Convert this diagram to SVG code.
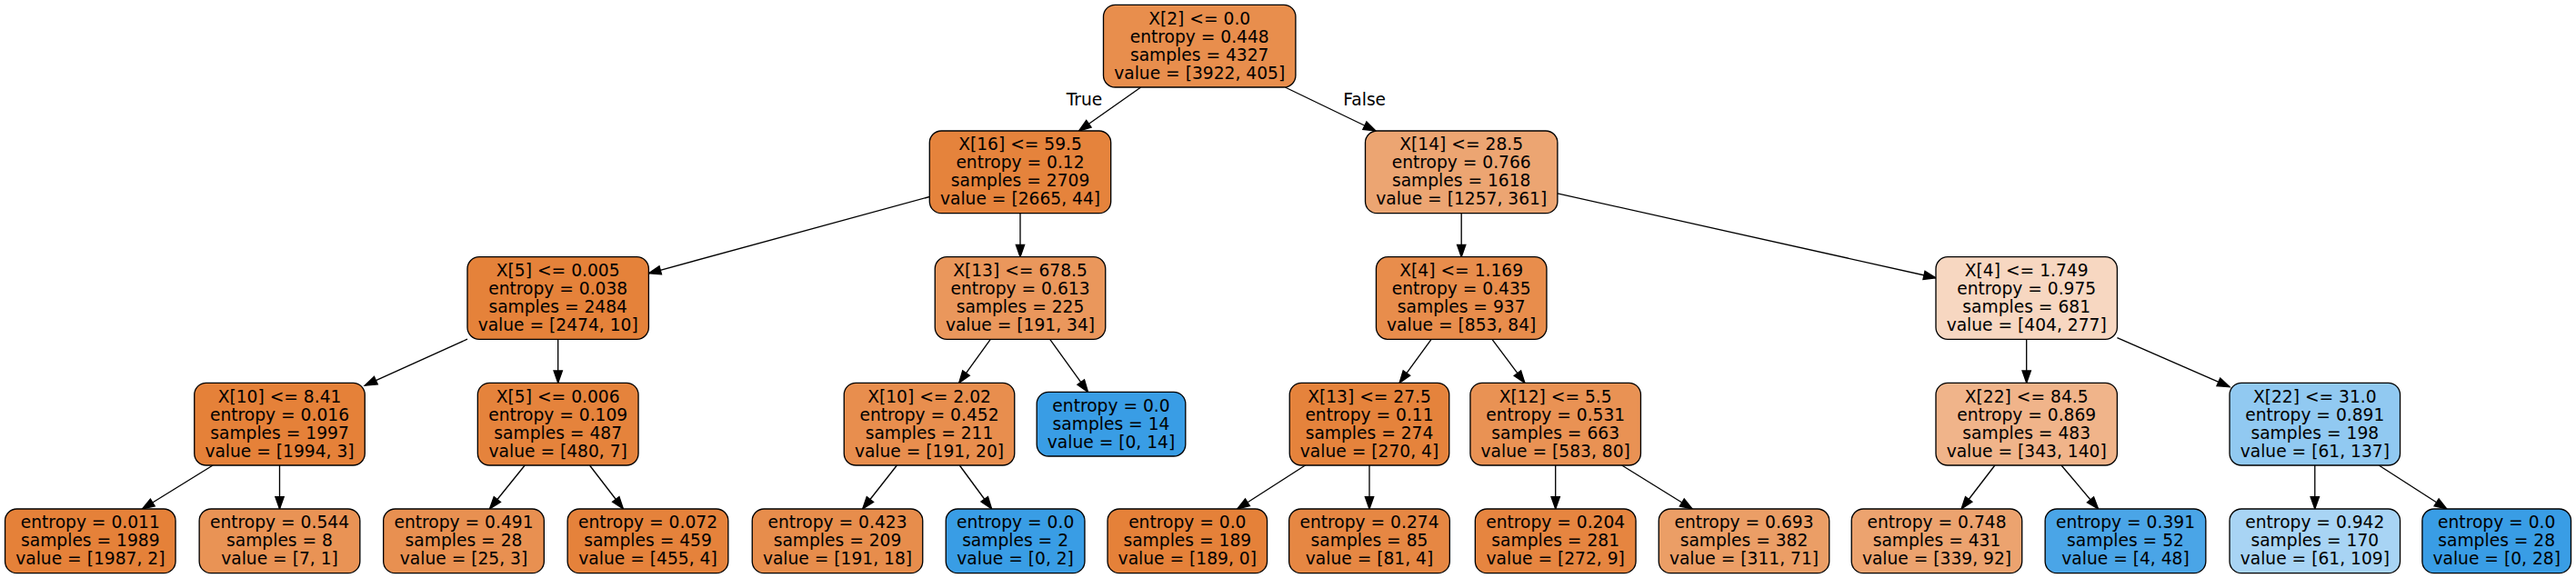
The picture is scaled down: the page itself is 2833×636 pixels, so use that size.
<svg xmlns="http://www.w3.org/2000/svg" width="2833" height="636" viewBox="0 0 2833 636">
<style>
.n rect{stroke:#000;stroke-width:1.33}
text{font-family:"DejaVu Sans","Liberation Sans",sans-serif;font-size:18.67px;text-anchor:middle;fill:#000}
.e line{stroke:#000;stroke-width:1.33;marker-end:url(#arr)}
</style>
<defs>
<marker id="arr" markerUnits="userSpaceOnUse" markerWidth="16" markerHeight="12" refX="13.33" refY="4.67" orient="auto" overflow="visible">
<path d="M0,0 L13.33,4.67 L0,9.33 z" fill="#000" stroke="#000" stroke-width="1.33"/>
</marker>
</defs>
<rect x="0" y="0" width="2833" height="636" fill="#fff"/>
<g id="edges" class="e">
<line x1="1254.7" y1="96" x2="1186.5" y2="144"/>
<line x1="1413.3" y1="96" x2="1512.9" y2="144"/>
<line x1="1022.3" y1="216.5" x2="713.4" y2="300.8"/>
<line x1="1122" y1="234.67" x2="1122" y2="282.67"/>
<line x1="1607.2" y1="234.67" x2="1607.2" y2="282.67"/>
<line x1="1712.9" y1="212.9" x2="2129" y2="305.75"/>
<line x1="514" y1="373.15" x2="401.25" y2="424.2"/>
<line x1="613.7" y1="373.33" x2="613.7" y2="421.33"/>
<line x1="1089.3" y1="373.33" x2="1054.7" y2="421.33"/>
<line x1="1154.7" y1="373.33" x2="1196.5" y2="431.33"/>
<line x1="1574.1" y1="373.33" x2="1539.1" y2="421.33"/>
<line x1="1641" y1="373.33" x2="1676.9" y2="421.33"/>
<line x1="2228.7" y1="373.33" x2="2228.7" y2="421.33"/>
<line x1="2328.4" y1="371.6" x2="2452.05" y2="425.67"/>
<line x1="234.1" y1="512" x2="156.5" y2="560"/>
<line x1="307.5" y1="512" x2="307.5" y2="560"/>
<line x1="577.2" y1="512" x2="538.5" y2="560"/>
<line x1="648.5" y1="512" x2="685.4" y2="560"/>
<line x1="986.4" y1="512" x2="948.7" y2="560"/>
<line x1="1055.3" y1="512" x2="1090.6" y2="560"/>
<line x1="1435.5" y1="512" x2="1360.8" y2="560"/>
<line x1="1506" y1="512" x2="1506" y2="560"/>
<line x1="1710.7" y1="512" x2="1710.7" y2="560"/>
<line x1="1783.7" y1="512" x2="1861.1" y2="560"/>
<line x1="2193.9" y1="512" x2="2157.1" y2="560"/>
<line x1="2267" y1="512" x2="2307.6" y2="560"/>
<line x1="2545.8" y1="512" x2="2545.8" y2="560"/>
<line x1="2616.2" y1="512" x2="2690.8" y2="560"/>
<text x="1192.5" y="116">True</text>
<text x="1500.7" y="116">False</text>
</g>
<g id="n0" class="n"><rect x="1213.5" y="5.33" width="211.4" height="90.67" rx="13" fill="#e88e4d"/><text x="1319.2" y="26.67">X[2] &lt;= 0.0</text><text x="1319.2" y="46.67">entropy = 0.448</text><text x="1319.2" y="66.67">samples = 4327</text><text x="1319.2" y="86.67">value = [3922, 405]</text></g>
<g id="n1" class="n"><rect x="1022.3" y="144" width="199.4" height="90.67" rx="13" fill="#e5833c"/><text x="1122" y="165.33">X[16] &lt;= 59.5</text><text x="1122" y="185.33">entropy = 0.12</text><text x="1122" y="205.33">samples = 2709</text><text x="1122" y="225.33">value = [2665, 44]</text></g>
<g id="n2" class="n"><rect x="1501.5" y="144" width="211.4" height="90.67" rx="13" fill="#eca572"/><text x="1607.2" y="165.33">X[14] &lt;= 28.5</text><text x="1607.2" y="185.33">entropy = 0.766</text><text x="1607.2" y="205.33">samples = 1618</text><text x="1607.2" y="225.33">value = [1257, 361]</text></g>
<g id="n3" class="n"><rect x="514" y="282.67" width="199.4" height="90.67" rx="13" fill="#e5823a"/><text x="613.7" y="304">X[5] &lt;= 0.005</text><text x="613.7" y="324">entropy = 0.038</text><text x="613.7" y="344">samples = 2484</text><text x="613.7" y="364">value = [2474, 10]</text></g>
<g id="n4" class="n"><rect x="1028.25" y="282.67" width="187.5" height="90.67" rx="13" fill="#ea975c"/><text x="1122" y="304">X[13] &lt;= 678.5</text><text x="1122" y="324">entropy = 0.613</text><text x="1122" y="344">samples = 225</text><text x="1122" y="364">value = [191, 34]</text></g>
<g id="n5" class="n"><rect x="1513.45" y="282.67" width="187.5" height="90.67" rx="13" fill="#e88d4c"/><text x="1607.2" y="304">X[4] &lt;= 1.169</text><text x="1607.2" y="324">entropy = 0.435</text><text x="1607.2" y="344">samples = 937</text><text x="1607.2" y="364">value = [853, 84]</text></g>
<g id="n6" class="n"><rect x="2129" y="282.67" width="199.4" height="90.67" rx="13" fill="#f7d7c1"/><text x="2228.7" y="304">X[4] &lt;= 1.749</text><text x="2228.7" y="324">entropy = 0.975</text><text x="2228.7" y="344">samples = 681</text><text x="2228.7" y="364">value = [404, 277]</text></g>
<g id="n7" class="n"><rect x="213.75" y="421.33" width="187.5" height="90.67" rx="13" fill="#e58139"/><text x="307.5" y="442.67">X[10] &lt;= 8.41</text><text x="307.5" y="462.67">entropy = 0.016</text><text x="307.5" y="482.67">samples = 1997</text><text x="307.5" y="502.67">value = [1994, 3]</text></g>
<g id="n8" class="n"><rect x="525.35" y="421.33" width="176.7" height="90.67" rx="13" fill="#e5833c"/><text x="613.7" y="442.67">X[5] &lt;= 0.006</text><text x="613.7" y="462.67">entropy = 0.109</text><text x="613.7" y="482.67">samples = 487</text><text x="613.7" y="502.67">value = [480, 7]</text></g>
<g id="n9" class="n"><rect x="928.25" y="421.33" width="187.5" height="90.67" rx="13" fill="#e88e4e"/><text x="1022" y="442.67">X[10] &lt;= 2.02</text><text x="1022" y="462.67">entropy = 0.452</text><text x="1022" y="482.67">samples = 211</text><text x="1022" y="502.67">value = [191, 20]</text></g>
<g id="n10" class="n"><rect x="1140.2" y="431.33" width="163.6" height="70.67" rx="13" fill="#399de5"/><text x="1222" y="452.67">entropy = 0.0</text><text x="1222" y="472.67">samples = 14</text><text x="1222" y="492.67">value = [0, 14]</text></g>
<g id="n11" class="n"><rect x="1418.25" y="421.33" width="175.5" height="90.67" rx="13" fill="#e5833c"/><text x="1506" y="442.67">X[13] &lt;= 27.5</text><text x="1506" y="462.67">entropy = 0.11</text><text x="1506" y="482.67">samples = 274</text><text x="1506" y="502.67">value = [270, 4]</text></g>
<g id="n12" class="n"><rect x="1616.95" y="421.33" width="187.5" height="90.67" rx="13" fill="#e99254"/><text x="1710.7" y="442.67">X[12] &lt;= 5.5</text><text x="1710.7" y="462.67">entropy = 0.531</text><text x="1710.7" y="482.67">samples = 663</text><text x="1710.7" y="502.67">value = [583, 80]</text></g>
<g id="n13" class="n"><rect x="2129" y="421.33" width="199.4" height="90.67" rx="13" fill="#f0b48a"/><text x="2228.7" y="442.67">X[22] &lt;= 84.5</text><text x="2228.7" y="462.67">entropy = 0.869</text><text x="2228.7" y="482.67">samples = 483</text><text x="2228.7" y="502.67">value = [343, 140]</text></g>
<g id="n14" class="n"><rect x="2452.05" y="421.33" width="187.5" height="90.67" rx="13" fill="#91c9f1"/><text x="2545.8" y="442.67">X[22] &lt;= 31.0</text><text x="2545.8" y="462.67">entropy = 0.891</text><text x="2545.8" y="482.67">samples = 198</text><text x="2545.8" y="502.67">value = [61, 137]</text></g>
<g id="n15" class="n"><rect x="5.55" y="560" width="187.5" height="70.67" rx="13" fill="#e58139"/><text x="99.3" y="581.33">entropy = 0.011</text><text x="99.3" y="601.33">samples = 1989</text><text x="99.3" y="621.33">value = [1987, 2]</text></g>
<g id="n16" class="n"><rect x="219.15" y="560" width="176.7" height="70.67" rx="13" fill="#e99355"/><text x="307.5" y="581.33">entropy = 0.544</text><text x="307.5" y="601.33">samples = 8</text><text x="307.5" y="621.33">value = [7, 1]</text></g>
<g id="n17" class="n"><rect x="421.65" y="560" width="176.7" height="70.67" rx="13" fill="#e89051"/><text x="510" y="581.33">entropy = 0.491</text><text x="510" y="601.33">samples = 28</text><text x="510" y="621.33">value = [25, 3]</text></g>
<g id="n18" class="n"><rect x="624.15" y="560" width="176.7" height="70.67" rx="13" fill="#e5823b"/><text x="712.5" y="581.33">entropy = 0.072</text><text x="712.5" y="601.33">samples = 459</text><text x="712.5" y="621.33">value = [455, 4]</text></g>
<g id="n19" class="n"><rect x="827.25" y="560" width="187.5" height="70.67" rx="13" fill="#e78d4c"/><text x="921" y="581.33">entropy = 0.423</text><text x="921" y="601.33">samples = 209</text><text x="921" y="621.33">value = [191, 18]</text></g>
<g id="n20" class="n"><rect x="1040.25" y="560" width="152.7" height="70.67" rx="13" fill="#399de5"/><text x="1116.6" y="581.33">entropy = 0.0</text><text x="1116.6" y="601.33">samples = 2</text><text x="1116.6" y="621.33">value = [0, 2]</text></g>
<g id="n21" class="n"><rect x="1218.05" y="560" width="175.5" height="70.67" rx="13" fill="#e58139"/><text x="1305.8" y="581.33">entropy = 0.0</text><text x="1305.8" y="601.33">samples = 189</text><text x="1305.8" y="621.33">value = [189, 0]</text></g>
<g id="n22" class="n"><rect x="1417.65" y="560" width="176.7" height="70.67" rx="13" fill="#e68743"/><text x="1506" y="581.33">entropy = 0.274</text><text x="1506" y="601.33">samples = 85</text><text x="1506" y="621.33">value = [81, 4]</text></g>
<g id="n23" class="n"><rect x="1622.35" y="560" width="176.7" height="70.67" rx="13" fill="#e68540"/><text x="1710.7" y="581.33">entropy = 0.204</text><text x="1710.7" y="601.33">samples = 281</text><text x="1710.7" y="621.33">value = [272, 9]</text></g>
<g id="n24" class="n"><rect x="1824.25" y="560" width="187.5" height="70.67" rx="13" fill="#eb9e66"/><text x="1918" y="581.33">entropy = 0.693</text><text x="1918" y="601.33">samples = 382</text><text x="1918" y="621.33">value = [311, 71]</text></g>
<g id="n25" class="n"><rect x="2036.25" y="560" width="187.5" height="70.67" rx="13" fill="#eca36f"/><text x="2130" y="581.33">entropy = 0.748</text><text x="2130" y="601.33">samples = 431</text><text x="2130" y="621.33">value = [339, 92]</text></g>
<g id="n26" class="n"><rect x="2249.15" y="560" width="176.7" height="70.67" rx="13" fill="#4aa5e7"/><text x="2337.5" y="581.33">entropy = 0.391</text><text x="2337.5" y="601.33">samples = 52</text><text x="2337.5" y="621.33">value = [4, 48]</text></g>
<g id="n27" class="n"><rect x="2452.05" y="560" width="187.5" height="70.67" rx="13" fill="#a8d4f4"/><text x="2545.8" y="581.33">entropy = 0.942</text><text x="2545.8" y="601.33">samples = 170</text><text x="2545.8" y="621.33">value = [61, 109]</text></g>
<g id="n28" class="n"><rect x="2663.9" y="560" width="163.6" height="70.67" rx="13" fill="#399de5"/><text x="2745.7" y="581.33">entropy = 0.0</text><text x="2745.7" y="601.33">samples = 28</text><text x="2745.7" y="621.33">value = [0, 28]</text></g>
</svg>
